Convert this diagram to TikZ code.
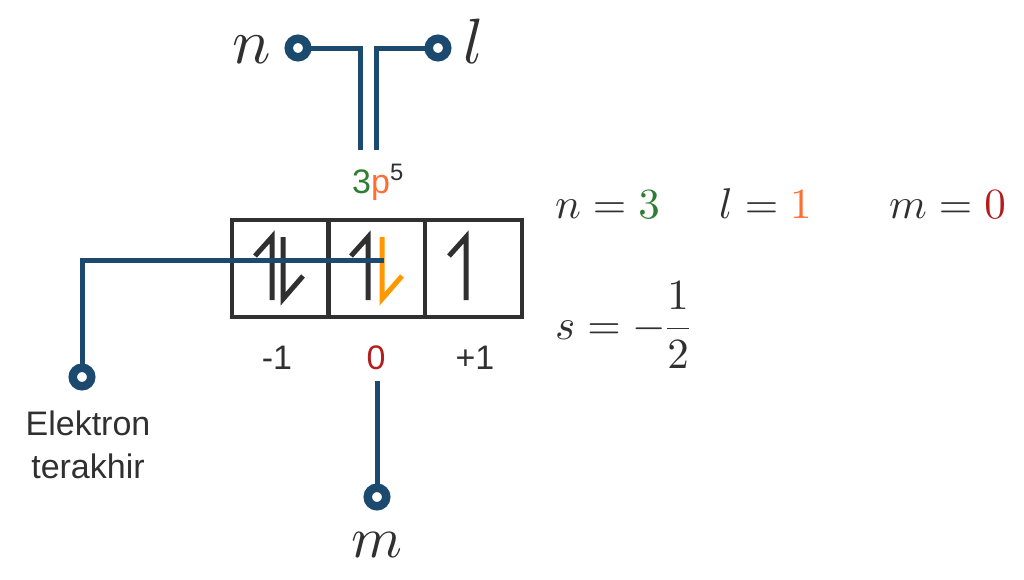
\documentclass[tikz,border=0pt]{standalone}
\usepackage{amsmath}
\usepackage[no-math]{fontspec}
\setsansfont{Liberation Sans}
\DeclareFontShape{OML}{cmm}{m}{it}{<->cmmi10}{}
\DeclareFontShape{OT1}{cmr}{m}{n}{<->cmr10}{}
\DeclareFontShape{OMS}{cmsy}{m}{n}{<->cmsy10}{}
\definecolor{wireblue}{RGB}{27,74,110}
\definecolor{ink}{RGB}{48,48,48}
\definecolor{cgreen}{RGB}{46,125,50}
\definecolor{corange}{RGB}{255,110,48}
\definecolor{harporange}{RGB}{255,152,0}
\definecolor{zred}{RGB}{178,30,30}
\begin{document}
\begin{tikzpicture}[x=1pt,y=-1pt,
  wire/.style={draw=wireblue, line width=5pt},
  pinc/.style={circle, draw=wireblue, fill=white, line width=8.5pt, minimum size=18.5pt, inner sep=0pt, outer sep=0pt},
  orb/.style={draw=ink, line width=4pt, minimum width=97pt, minimum height=97pt, inner sep=0pt},
  harp/.style={draw=ink, line width=5pt, line join=miter},
  lbl/.style={font=\sffamily\fontsize{34}{34}\selectfont, text=ink, anchor=base, inner sep=0pt},
  big/.style={font=\fontsize{64}{64}\selectfont, text=ink, anchor=base, inner sep=0pt},
  eq/.style={font=\fontsize{43}{43}\selectfont, text=ink, anchor=base west, inner sep=0pt}
]
\useasboundingbox (0,0) rectangle (1024,579);

% quantum number labels
\node[big] (nlab) at (252,63) {$n$};
\node[big] (llab) at (474,63) {$l$};
\node[big, font=\fontsize{58}{58}\selectfont] (mlab) at (377,557) {$m$};

% pins
\node[pinc] (cn) at (298,48) {};
\node[pinc] (cl) at (438,48) {};
\node[pinc] (ce) at (82,377) {};
\node[pinc] (cm) at (377,497) {};

% wire ends
\coordinate (nt) at (360,150);
\coordinate (lt) at (376,150);
\coordinate (ee) at (384,260);
\coordinate (mt) at (377,381);

% configuration
\node[anchor=base, inner sep=0pt, text=ink, font=\sffamily\fontsize{34}{34}\selectfont] (cfg) at (378,193)
  {\textcolor{cgreen}{3}\textcolor{corange}{p}\textsuperscript{5}};

% orbital boxes
\node[orb] (b1) at (280.5,268.5) {};
\node[orb] (b2) at (376.5,268.5) {};
\node[orb] (b3) at (473,268.5) {};

% electrons
\draw[harp] (272,300) -- (272,237) -- (255,256);
\draw[harp] (283,237) -- (283,299) -- (303,276);
\draw[harp] (368,300) -- (368,237) -- (351,256);
\draw[harp, draw=harporange] (382,237) -- (382,299) -- (402,276);
\draw[harp] (466,300) -- (466,237) -- (449,256);

% magnetic numbers
\node[lbl] (mneg) at (277,369) {-1};
\node[lbl, text=zred] (mzero) at (376,369) {0};
\node[lbl] (mpos) at (475,369) {+1};

% last electron label
\node[lbl] (el1) at (88,435) {Elektron};
\node[lbl] (el2) at (88,478) {terakhir};

% wires
\draw[wire] (cn.east) -| (nt);
\draw[wire] (cl.west) -| (lt);
\draw[wire] (ee) -| (ce.north);
\draw[wire] (mt) -- (cm.north);

% equations
\node[eq] (eqn) at (555,218) {$n={\color{cgreen}3}$};
\node[eq] (eql) at (719,218) {$l={\color{corange}1}$};
\node[eq] (eqm) at (889,218) {$m={\color{zred}0}$};
\node[eq] (eqs) at (555,339) {$s=-\dfrac{1}{2}$};
\end{tikzpicture}
\end{document}
